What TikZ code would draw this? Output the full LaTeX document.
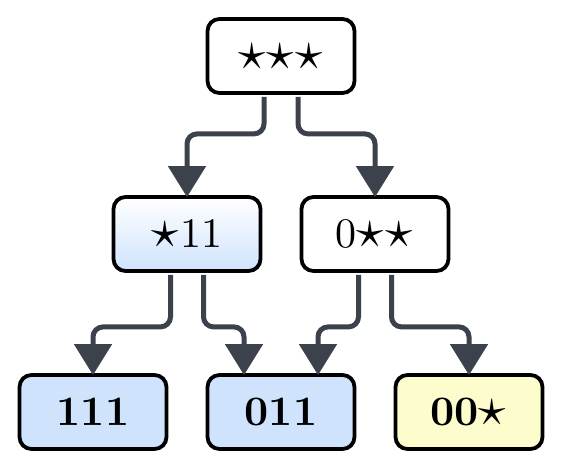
\documentclass[tikz,border=0pt]{standalone}
\usepackage{unicode-math}
\setmainfont{lmroman10-regular.otf}[BoldFont=lmroman10-bold.otf]
\setmathfont{Latin Modern Math}
\usetikzlibrary{arrows.meta,shadings}
\definecolor{conn}{HTML}{3C424B}
\definecolor{leafblue}{HTML}{CFE3FD}
\definecolor{leafyellow}{HTML}{FDFCCC}
\newcommand{\st}{\scalebox{1.3}{$\star$}}
\tikzset{
  box/.style={draw=black, line width=3.8pt, rounded corners=12pt, minimum width=147pt, minimum height=74pt, inner sep=0pt, font=\fontsize{42}{50}\selectfont},
  plainbox/.style={box, fill=white},
  gradbox/.style={box, top color=white, bottom color=leafblue},
  bluebox/.style={box, fill=leafblue, font=\fontsize{42}{50}\selectfont\bfseries},
  yellowbox/.style={box, fill=leafyellow, font=\fontsize{42}{50}\selectfont\bfseries},
  conn/.style={draw=conn, line width=5pt, rounded corners=10pt, -{Triangle[width=37pt,length=31pt]}}
}
\begin{document}
\begin{tikzpicture}[x=1pt,y=-1pt]
\useasboundingbox (0,0) rectangle (563,469);
\node[plainbox] (top) at (281,56) {\st\st\st};
\node[gradbox] (ml) at (187,234) {\st11};
\node[plainbox] (mr) at (375,234) {0\st\st};
\node[bluebox] (b1) at (93,412) {111};
\node[bluebox] (b2) at (281,412) {011};
\node[yellowbox] (b3) at (469,412) {00\st};
\coordinate (t1) at ([yshift=-2pt]ml.north);
\coordinate (t2) at ([yshift=-2pt]mr.north);
\coordinate (t3) at ([yshift=-2pt]b1.north);
\coordinate (t4) at ([xshift=-37pt,yshift=-2pt]b2.north);
\coordinate (t5) at ([xshift=37pt,yshift=-2pt]b2.north);
\coordinate (t6) at ([yshift=-2pt]b3.north);
\draw[conn] ([xshift=-17pt,yshift=-2pt]top.south) -- ++(0,37) -| (t1);
\draw[conn] ([xshift=17pt,yshift=-2pt]top.south) -- ++(0,37) -| (t2);
\draw[conn] ([xshift=-16.5pt,yshift=-2pt]ml.south) -- ++(0,52) -| (t3);
\draw[conn] ([xshift=16.5pt,yshift=-2pt]ml.south) -- ++(0,52) -| (t4);
\draw[conn] ([xshift=-16.5pt,yshift=-2pt]mr.south) -- ++(0,52) -| (t5);
\draw[conn] ([xshift=16.5pt,yshift=-2pt]mr.south) -- ++(0,52) -| (t6);
\end{tikzpicture}
\end{document}
